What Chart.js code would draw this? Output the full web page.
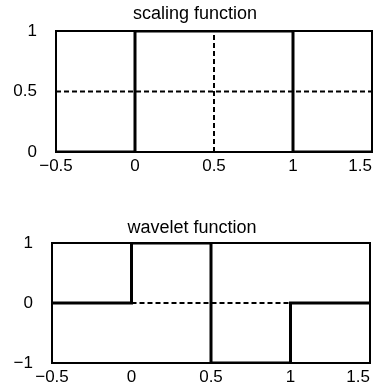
<!DOCTYPE html>
<html>
<head>
<meta charset="utf-8">
<script src="https://cdn.jsdelivr.net/npm/chart.js@4.4.1/dist/chart.umd.min.js"></script>
<style>
html, body { margin: 0; padding: 0; background: #fff; }
#top { position: absolute; left: 0; top: 0; width: 375px; height: 185px; }
#bottom { position: absolute; left: 0; top: 200px; width: 375px; height: 188px; }
</style>
</head>
<body>
<div id="top"><canvas id="scalingChart"></canvas></div>
<div id="bottom"><canvas id="waveletChart"></canvas></div>
<script>
// haar scaling function
var scalingX = [-0.5, 0, 0, 1, 1, 1.5];
var scalingY = [0, 0, 1, 1, 0, 0];
// dashed guide lines
var scalingHLineX = [-0.5, 1.5];
var scalingHLineY = [0.5, 0.5];
var scalingVLineX = [0.5, 0.5];
var scalingVLineY = [0, 1];

// haar wavelet
var waveletX = [-0.5, 0, 0, 0.5, 0.5, 1, 1, 1.5];
var waveletY = [0, 0, 1, 1, -1, -1, 0, 0];
var waveletZeroX = [0, 1];
var waveletZeroY = [0, 0];

var xTicks = [-0.5, 0, 0.5, 1, 1.5];
var scalingYTicks = [0, 0.5, 1];
var waveletYTicks = [-1, 0, 1];

Chart.defaults.font.family = '"Liberation Sans", Arial, sans-serif';
Chart.defaults.color = '#000';

function pts(xs, ys) {
    return xs.map(function(x, i) { return {x: x, y: ys[i]}; });
}

function fmt(v) {
    return String(v).replace('-', '\u2212');
}

function solid(xs, ys) {
    return { data: pts(xs, ys), showLine: true, borderColor: '#000', borderWidth: 3,
             pointRadius: 0, tension: 0 };
}

function dashed(xs, ys) {
    return { data: pts(xs, ys), showLine: true, borderColor: '#000', borderWidth: 2,
             borderDash: [5, 3], pointRadius: 0, tension: 0 };
}

// box round the plot area, plus small placement tweaks
var framePlugin = {
    id: 'frame',
    afterLayout: function(chart) {
        // centre the title a bit right of the canvas middle
        if (chart.titleBlock) chart.titleBlock.left += chart.options.titleShift || 0;
    },
    beforeDatasetsDraw: function(chart) {
        var a = chart.chartArea, ctx = chart.ctx;
        ctx.save();
        ctx.strokeStyle = '#000';
        ctx.lineWidth = 2;
        ctx.strokeRect(a.left, a.top, a.right - a.left, a.bottom - a.top);
        ctx.restore();
    },
    beforeDraw: function(chart) {
        // keep the last x label inside the canvas
        var items = chart.scales.x.getLabelItems();
        if (items.length) items[items.length - 1].options.textAlign = 'right';
    }
};

function makeChart(id, title, titlePad, titleShift, datasets, yTicks, yMin, yMax, yWidth, xHeight, rightPad) {
    return new Chart(document.getElementById(id).getContext('2d'), {
        type: 'scatter',
        data: { datasets: datasets },
        plugins: [framePlugin],
        options: {
            responsive: true,
            maintainAspectRatio: false,
            animation: false,
            titleShift: titleShift,
            layout: { padding: { left: 0, right: rightPad, top: 0, bottom: 0 } },
            plugins: {
                legend: { display: false },
                tooltip: { enabled: false },
                title: {
                    display: true,
                    text: title,
                    color: '#000',
                    font: { size: 18, weight: 'normal' },
                    padding: titlePad
                }
            },
            scales: {
                x: {
                    type: 'linear',
                    min: xTicks[0],
                    max: xTicks[xTicks.length - 1],
                    grid: { display: false, drawTicks: false },
                    border: { display: false },
                    afterBuildTicks: function(scale) {
                        scale.ticks = xTicks.map(function(v) { return {value: v}; });
                    },
                    afterFit: function(scale) {
                        scale.height = xHeight;
                        scale.paddingLeft = 0;
                        scale.paddingRight = 0;
                    },
                    ticks: {
                        font: { size: 17 },
                        padding: 4,
                        maxRotation: 0,
                        autoSkip: false,
                        callback: function(v) { return fmt(v); }
                    }
                },
                y: {
                    type: 'linear',
                    min: yMin,
                    max: yMax,
                    grid: { display: false, drawTicks: false },
                    border: { display: false },
                    afterBuildTicks: function(scale) {
                        scale.ticks = yTicks.map(function(v) { return {value: v}; });
                    },
                    afterFit: function(scale) {
                        scale.width = yWidth;
                        scale.paddingTop = 0;
                        scale.paddingBottom = 0;
                    },
                    ticks: {
                        font: { size: 17 },
                        padding: 19,
                        autoSkip: false,
                        callback: function(v) { return fmt(v); }
                    }
                }
            }
        }
    });
}

makeChart('scalingChart', 'scaling function', { top: 3.2, bottom: 6.2 }, 18,
    [solid(scalingX, scalingY), dashed(scalingHLineX, scalingHLineY), dashed(scalingVLineX, scalingVLineY)],
    scalingYTicks, 0, 1, 56, 33, 3);

makeChart('waveletChart', 'wavelet function', { top: 17.2, bottom: 4.2 }, 14,
    [solid(waveletX, waveletY), dashed(waveletZeroX, waveletZeroY)],
    waveletYTicks, -1, 1, 52, 25, 5);
</script>
</body>
</html>
